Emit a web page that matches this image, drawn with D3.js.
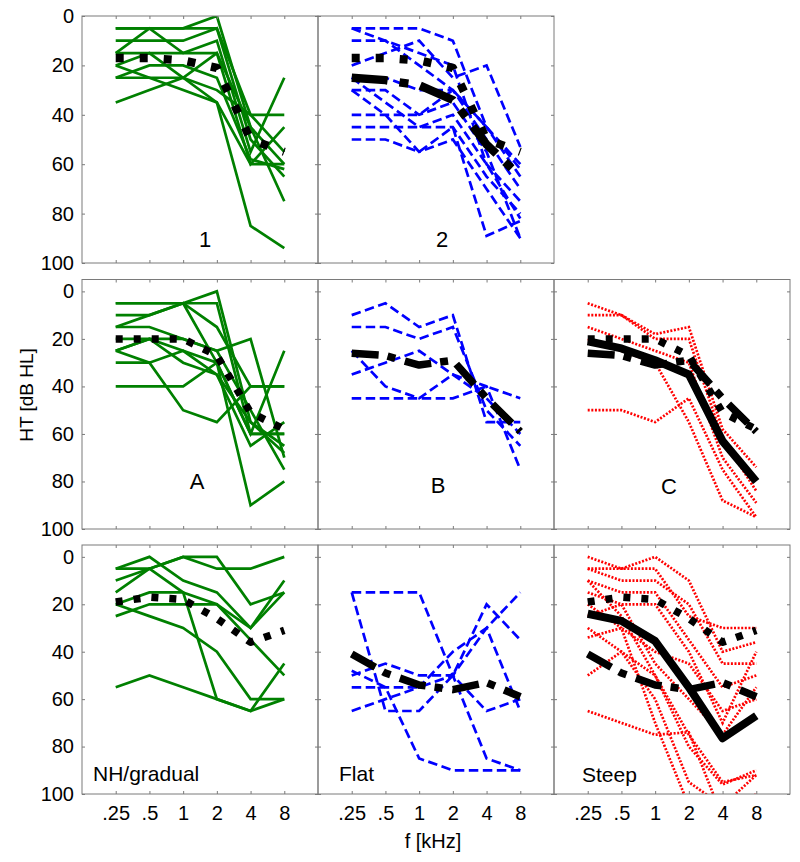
<!DOCTYPE html>
<html><head><meta charset="utf-8">
<script src="https://cdnjs.cloudflare.com/ajax/libs/d3/7.8.5/d3.min.js"></script>
<style>body{margin:0;background:#fff}svg{font-family:"Liberation Sans",Arial,sans-serif}</style>
</head><body><svg id="c" width="800" height="862"></svg>
<script>
// ---------- data ----------
const freqLabels = [".25", ".5", "1", "2", "4", "8"];
const yTicks = [0, 20, 40, 60, 80, 100];

const group1 = [
  [5, 5, 5, 0, 45, 60],
  [5, 5, 5, 5, 40, 40],
  [10, 10, 10, 5, 50, 65],
  [15, 5, 15, 10, 55, 25],
  [15, 15, 15, 15, 60, 45],
  [20, 15, 25, 15, 45, 75],
  [25, 20, 20, 25, 58, 62],
  [20, 25, 25, 30, 40, 55],
  [35, 30, 25, 35, 85, 94],
  [25, 25, 30, 35, 60, 60]
];
const group2 = [
  [5, 5, 5, 10, 45, 60],
  [5, 10, 15, 20, 60, 75],
  [10, 10, 20, 30, 50, 70],
  [20, 15, 10, 25, 20, 53],
  [25, 25, 30, 30, 45, 62],
  [30, 30, 40, 35, 55, 90],
  [25, 35, 45, 40, 60, 82],
  [40, 40, 40, 30, 45, 65],
  [45, 45, 45, 45, 65, 80],
  [50, 50, 55, 45, 89, 83],
  [30, 40, 55, 50, 70, 90]
];
const groupA = [
  [5, 5, 5, 0, 55, 65],
  [5, 5, 5, 5, 60, 60],
  [10, 10, 5, 15, 40, 40],
  [15, 10, 5, 30, 90, 80],
  [15, 15, 20, 25, 20, 70],
  [20, 20, 25, 30, 60, 25],
  [25, 20, 20, 25, 50, 75],
  [25, 30, 50, 55, 40, 40],
  [30, 30, 25, 35, 65, 55],
  [40, 40, 40, 30, 60, 60],
  [25, 20, 30, 35, 55, 68]
];
const groupB = [
  [10, 5, 15, 10, 55, 55],
  [15, 15, 20, 15, 50, 65],
  [25, 40, 45, 35, 40, 75],
  [35, 30, 25, 35, 45, 60],
  [45, 45, 45, 45, 40, 45]
];
const groupC = [
  [5, 10, 18, 15, 58, 74],
  [10, 10, 20, 20, 62, 84],
  [15, 20, 25, 30, 70, 89],
  [50, 50, 55, 45, 75, 95],
  [20, 25, 30, 55, 88, 95]
];
const groupNH = [
  [5, 0, 10, 15, 30, 10],
  [5, 5, 0, 0, 20, 15],
  [10, 5, 0, 5, 5, 0],
  [15, 5, 15, 20, 35, 50],
  [20, 15, 15, 60, 65, 45],
  [25, 20, 20, 20, 30, 15],
  [20, 25, 30, 40, 60, 60],
  [55, 50, 55, 60, 65, 60]
];
const groupFlat = [
  [15, 15, 15, 50, 85, 90],
  [15, 65, 65, 50, 20, 35],
  [48, 55, 85, 90, 90, 90],
  [50, 45, 50, 50, 65, 60],
  [55, 55, 55, 50, 30, 15],
  [65, 60, 55, 40, 30, 65]
];
const groupSteep = [
  [0, 5, 0, 10, 40, 36],
  [5, 5, 5, 25, 30, 30],
  [5, 10, 10, 20, 45, 45],
  [10, 15, 15, 35, 55, 50],
  [15, 20, 20, 40, 70, 40],
  [25, 20, 45, 60, 75, 55],
  [34, 30, 40, 45, 65, 60],
  [50, 40, 50, 80, 96, 90],
  [30, 40, 60, 95, 105, 92],
  [20, 30, 70, 105, 110, 100],
  [65, 70, 75, 74, 110, 110],
  [10, 25, 50, 75, 95, 92]
];

const mean1 = [17, 17, 18, 21, 50, 55];
const mean2 = [25, 26, 28, 34, 52, 65];
const meanA = [20, 20, 20, 27, 51, 58];
const meanB = [26, 27, 31, 29, 45, 59];
const meanC = [21, 24, 29, 35, 63, 80];
const meanNH = [19, 17, 18, 26, 36, 31];
const meanFlat = [41, 49, 54, 56, 53, 59];
const meanSteep = [24, 27, 35.5, 55, 76.5, 67];

// ---------- layout ----------
const colX = [82, 318, 554], colW = 236;
const rowsL = [
  {top: 16, bottom: 263, dom: [0, 100], s: 1.33},
  {top: 279.5, bottom: 529, dom: [-5, 100], s: 1},
  {top: 545, bottom: 794, dom: [-5, 100], s: 1}
];
const styles = {
  green: {stroke: "#008000", w: 2.7, dash: null},
  blue: {stroke: "#0000ff", w: 2.7, dash: "9.5,4.5"},
  red: {stroke: "#ff0000", w: 2.7, dash: "2,1.6"}
};
const meanStyles = {
  dot: s => ({w: s > 1 ? 8.3 : 7.5, dash: s > 1 ? "8,16" : "7,11"}),
  dashdot: s => ({w: s > 1 ? 8.3 : 7.5, dash: s > 1 ? "36,12,9,12" : "27,9,8,10"}),
  solid: s => ({w: 8, dash: null})
};

const panels = [
  {r: 0, c: 0, lines: group1, st: "green", means: [[mean1, "dot"]], label: "1", lx: 205, ly: 247, anchor: "middle", fs: 22},
  {r: 0, c: 1, lines: group2, st: "blue", means: [[mean1, "dot"], [mean2, "dashdot"]], label: "2", lx: 442, ly: 247, anchor: "middle", fs: 22},
  {r: 1, c: 0, lines: groupA, st: "green", means: [[meanA, "dot"]], label: "A", lx: 197, ly: 489, anchor: "middle", fs: 22},
  {r: 1, c: 1, lines: groupB, st: "blue", means: [[meanB, "dashdot"]], label: "B", lx: 438, ly: 493, anchor: "middle", fs: 22},
  {r: 1, c: 2, lines: groupC, st: "red", means: [[meanA, "dot"], [meanB, "dashdot"], [meanC, "solid"]], label: "C", lx: 669, ly: 494, anchor: "middle", fs: 22},
  {r: 2, c: 0, lines: groupNH, st: "green", means: [[meanNH, "dot"]], label: "NH/gradual", lx: 93, ly: 781, anchor: "start", fs: 21},
  {r: 2, c: 1, lines: groupFlat, st: "blue", means: [[meanFlat, "dashdot"]], label: "Flat", lx: 339, ly: 781, anchor: "start", fs: 21},
  {r: 2, c: 2, lines: groupSteep, st: "red", means: [[meanNH, "dot"], [meanFlat, "dashdot"], [meanSteep, "solid"]], label: "Steep", lx: 582, ly: 782, anchor: "start", fs: 21}
];

const svg = d3.select("#c");
const gray = "#7a7a7a";

panels.forEach((p, i) => {
  const R = rowsL[p.r];
  const x0 = colX[p.c];
  const x = d3.scaleLinear().domain([0, 7]).range([x0, x0 + colW]);
  const y = d3.scaleLinear().domain(R.dom).range([R.top, R.bottom]);
  const g = svg.append("g");
  const cid = "clip" + i;
  svg.append("clipPath").attr("id", cid).append("rect")
    .attr("x", x0).attr("y", R.top).attr("width", colW).attr("height", R.bottom - R.top);

  const line = d3.line().x((d, k) => x(k + 1)).y(d => y(d));
  const plot = g.append("g").attr("clip-path", `url(#${cid})`);
  const st = styles[p.st];
  p.lines.forEach(L => {
    plot.append("path").attr("d", line(L)).attr("fill", "none")
      .attr("stroke", st.stroke).attr("stroke-width", st.w)
      .attr("stroke-dasharray", st.dash).attr("stroke-linejoin", "miter");
  });
  p.means.forEach(([M, kind]) => {
    const ms = meanStyles[kind](R.s);
    plot.append("path").attr("d", line(M)).attr("fill", "none")
      .attr("stroke", "#000").attr("stroke-width", ms.w)
      .attr("stroke-dasharray", ms.dash).attr("stroke-linecap", "butt").attr("stroke-linejoin", "round");
  });

  g.append("rect").attr("x", x0).attr("y", R.top).attr("width", colW).attr("height", R.bottom - R.top)
    .attr("fill", "none").attr("stroke", gray).attr("stroke-width", 1);

  const tickVals = d3.range(1, 7);
  const axes = [
    d3.axisLeft(y).tickValues(yTicks).tickSize(-3),
    d3.axisRight(y).tickValues(yTicks).tickSize(-3).tickFormat(""),
    d3.axisTop(x).tickValues(tickVals).tickSize(-3).tickFormat(""),
    d3.axisBottom(x).tickValues(tickVals).tickSize(-3)
  ];
  const tr = [`translate(${x0},0)`, `translate(${x0 + colW},0)`, `translate(0,${R.top})`, `translate(0,${R.bottom})`];
  axes.forEach((a, k) => {
    if (k === 0) { a.tickPadding(8); if (p.c !== 0) a.tickFormat(""); }
    if (k === 3) { a.tickPadding(12).tickFormat(p.r === 2 ? ((d, j) => freqLabels[j]) : ""); }
    const ag = g.append("g").attr("transform", tr[k]).call(a);
    ag.select(".domain").remove();
    ag.selectAll("line").attr("stroke", gray);
    ag.selectAll("text").attr("font-size", 20).attr("fill", "#000")
      .attr("font-family", "'Liberation Sans', Arial, sans-serif");
  });

  g.append("text").attr("x", p.lx).attr("y", p.ly).attr("text-anchor", p.anchor)
    .attr("font-size", p.fs).text(p.label);
});

svg.append("text").attr("transform", "translate(33,395) rotate(-90)")
  .attr("text-anchor", "middle").attr("font-size", 19).text("HT [dB HL]");
svg.append("text").attr("x", 433).attr("y", 848).attr("text-anchor", "middle")
  .attr("font-size", 20).text("f [kHz]");
</script></body></html>
